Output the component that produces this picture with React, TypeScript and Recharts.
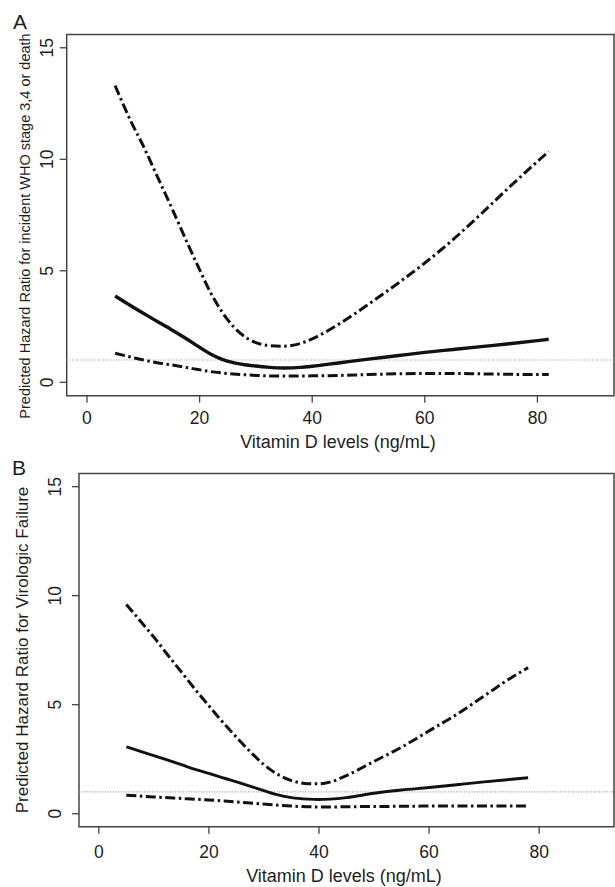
import React from 'react';
import { LineChart, Line, XAxis, YAxis, ReferenceLine, ReferenceArea } from 'recharts';

// Panel A: incident WHO stage 3,4 or death
const vitDA = [5, 8, 10, 12, 15, 18, 20, 22, 24, 26, 28, 30, 32, 35, 38, 40, 45, 50, 55, 60, 65, 70, 75, 80, 82];
const hrA = [3.87, 3.4, 3.1, 2.8, 2.36, 1.9, 1.57, 1.26, 1.03, 0.88, 0.79, 0.73, 0.68, 0.64, 0.67, 0.72, 0.88, 1.04, 1.19, 1.34, 1.47, 1.6, 1.73, 1.87, 1.93];
const upperA = [13.3, 11.6, 10.6, 9.5, 7.85, 6.15, 5.05, 4.0, 3.15, 2.5, 2.05, 1.78, 1.66, 1.62, 1.75, 1.95, 2.65, 3.5, 4.4, 5.35, 6.4, 7.55, 8.75, 9.9, 10.35];
const lowerA = [1.3, 1.12, 1.0, 0.9, 0.78, 0.65, 0.56, 0.48, 0.42, 0.37, 0.34, 0.31, 0.29, 0.28, 0.28, 0.29, 0.31, 0.35, 0.38, 0.4, 0.4, 0.38, 0.36, 0.35, 0.35];

// Panel B: virologic failure
const vitDB = [5, 8, 10, 12, 15, 18, 20, 22, 24, 26, 28, 30, 32, 35, 38, 40, 42, 45, 50, 55, 60, 65, 70, 75, 78];
const hrB = [3.07, 2.83, 2.66, 2.5, 2.25, 2.0, 1.85, 1.69, 1.54, 1.38, 1.22, 1.06, 0.9, 0.74, 0.67, 0.65, 0.67, 0.74, 0.94, 1.09, 1.2, 1.33, 1.46, 1.58, 1.65];
const upperB = [9.6, 8.7, 8.1, 7.45, 6.5, 5.55, 4.95, 4.35, 3.78, 3.24, 2.72, 2.25, 1.88, 1.52, 1.38, 1.37, 1.45, 1.75, 2.4, 3.05, 3.8, 4.55, 5.4, 6.25, 6.7];
const lowerB = [0.85, 0.8, 0.77, 0.74, 0.7, 0.66, 0.63, 0.6, 0.56, 0.52, 0.48, 0.44, 0.4, 0.35, 0.32, 0.31, 0.31, 0.32, 0.33, 0.34, 0.35, 0.35, 0.35, 0.35, 0.35];

const xTicks = [0, 20, 40, 60, 80];
const yTicks = [0, 5, 10, 15];
const xDomain: [number, number] = [-3.6, 93.6];
const yDomain: [number, number] = [-0.6, 15.6];

const FONT = '"Liberation Sans", Arial, Helvetica, sans-serif';
const INK = '#1e1e1e';
const DASH_DOT = '10 3.5 2.5 3.5';

const build = (xs: number[], hr: number[], up: number[], lo: number[]) =>
  xs.map((x, i) => ({ x, hr: hr[i], upper: up[i], lower: lo[i] }));

const RotTick = (props: any) => {
  const { x, y, payload } = props;
  return (
    <text x={x} y={y} transform={`rotate(-90 ${x} ${y})`} textAnchor='middle' fontSize={17.5} fontFamily={FONT} fill={INK}>
      {payload.value}
    </text>
  );
};

interface PanelProps {
  data: object[];
  top: number;
  height: number;
  margin: { top: number; right: number; bottom: number; left: number };
  xTickMargin: number;
  yTickMargin: number;
  fitWidth: number;
}

const Panel = ({ data, top, height, margin, xTickMargin, yTickMargin, fitWidth }: PanelProps) => (
  <div style={{ position: 'absolute', left: 0, top, width: 615, height }}>
    <LineChart width={615} height={height} data={data} margin={margin}>
      <XAxis
        type='number'
        dataKey='x'
        domain={xDomain}
        ticks={xTicks}
        allowDataOverflow
        axisLine={false}
        tickSize={7}
        tickMargin={xTickMargin}
        height={40}
        tickLine={{ stroke: '#444', strokeWidth: 1.3 }}
        tick={{ fontSize: 17.5, fontFamily: FONT, fill: INK }}
      />
      <YAxis
        type='number'
        domain={yDomain}
        ticks={yTicks}
        allowDataOverflow
        axisLine={false}
        tickSize={7}
        tickMargin={yTickMargin}
        width={40}
        tickLine={{ stroke: '#444', strokeWidth: 1.3 }}
        tick={<RotTick />}
      />
      <ReferenceArea x1={xDomain[0]} x2={xDomain[1]} y1={yDomain[0]} y2={yDomain[1]} fill='none' stroke='#444' strokeWidth={1.5} />
      <ReferenceLine y={1} stroke='#9a9a9a' strokeWidth={1.2} strokeDasharray='1 1.6' />
      <Line type='monotone' dataKey='upper' stroke='#111' strokeWidth={3} strokeDasharray={DASH_DOT} dot={false} isAnimationActive={false} />
      <Line type='monotone' dataKey='lower' stroke='#111' strokeWidth={3} strokeDasharray={DASH_DOT} dot={false} isAnimationActive={false} />
      <Line type='monotone' dataKey='hr' stroke='#111' strokeWidth={fitWidth} dot={false} isAnimationActive={false} />
    </LineChart>
  </div>
);

const App: React.FC = () => {
  const dataA = build(vitDA, hrA, upperA, lowerA);
  const dataB = build(vitDB, hrB, upperB, lowerB);

  return (
    <div style={{ position: 'absolute', left: 0, top: 0, width: 615, height: 887, overflow: 'hidden', background: '#fff' }}>
      <Panel
        data={dataA}
        top={0}
        height={440}
        margin={{ top: 34.4, right: 1, bottom: 4.3, left: 26.7 }}
        xTickMargin={8.4}
        yTickMargin={6.9}
        fitWidth={3.4}
      />
      <Panel
        data={dataB}
        top={440}
        height={447}
        margin={{ top: 33.6, right: 1, bottom: 20.2, left: 39 }}
        xTickMargin={11.7}
        yTickMargin={10.7}
        fitWidth={2.9}
      />
      <svg width={615} height={887} style={{ position: 'absolute', left: 0, top: 0, pointerEvents: 'none' }}>
        <g fontFamily={FONT} fill={INK}>
          <text x={13} y={29} fontSize={21}>A</text>
          <text x={12} y={475} fontSize={21}>B</text>
          <text x={30} y={226} fontSize={14.5} textAnchor='middle' transform='rotate(-90 30 226)'>
            Predicted Hazard Ratio for incident WHO stage 3,4 or death
          </text>
          <text x={338} y={448} fontSize={18} textAnchor='middle'>Vitamin D levels (ng/mL)</text>
          <text x={27.5} y={650} fontSize={17} textAnchor='middle' transform='rotate(-90 27.5 650)'>
            Predicted Hazard Ratio for Virologic Failure
          </text>
          <text x={344} y={882} fontSize={18} textAnchor='middle'>Vitamin D levels (ng/mL)</text>
        </g>
      </svg>
    </div>
  );
};

export default App;
